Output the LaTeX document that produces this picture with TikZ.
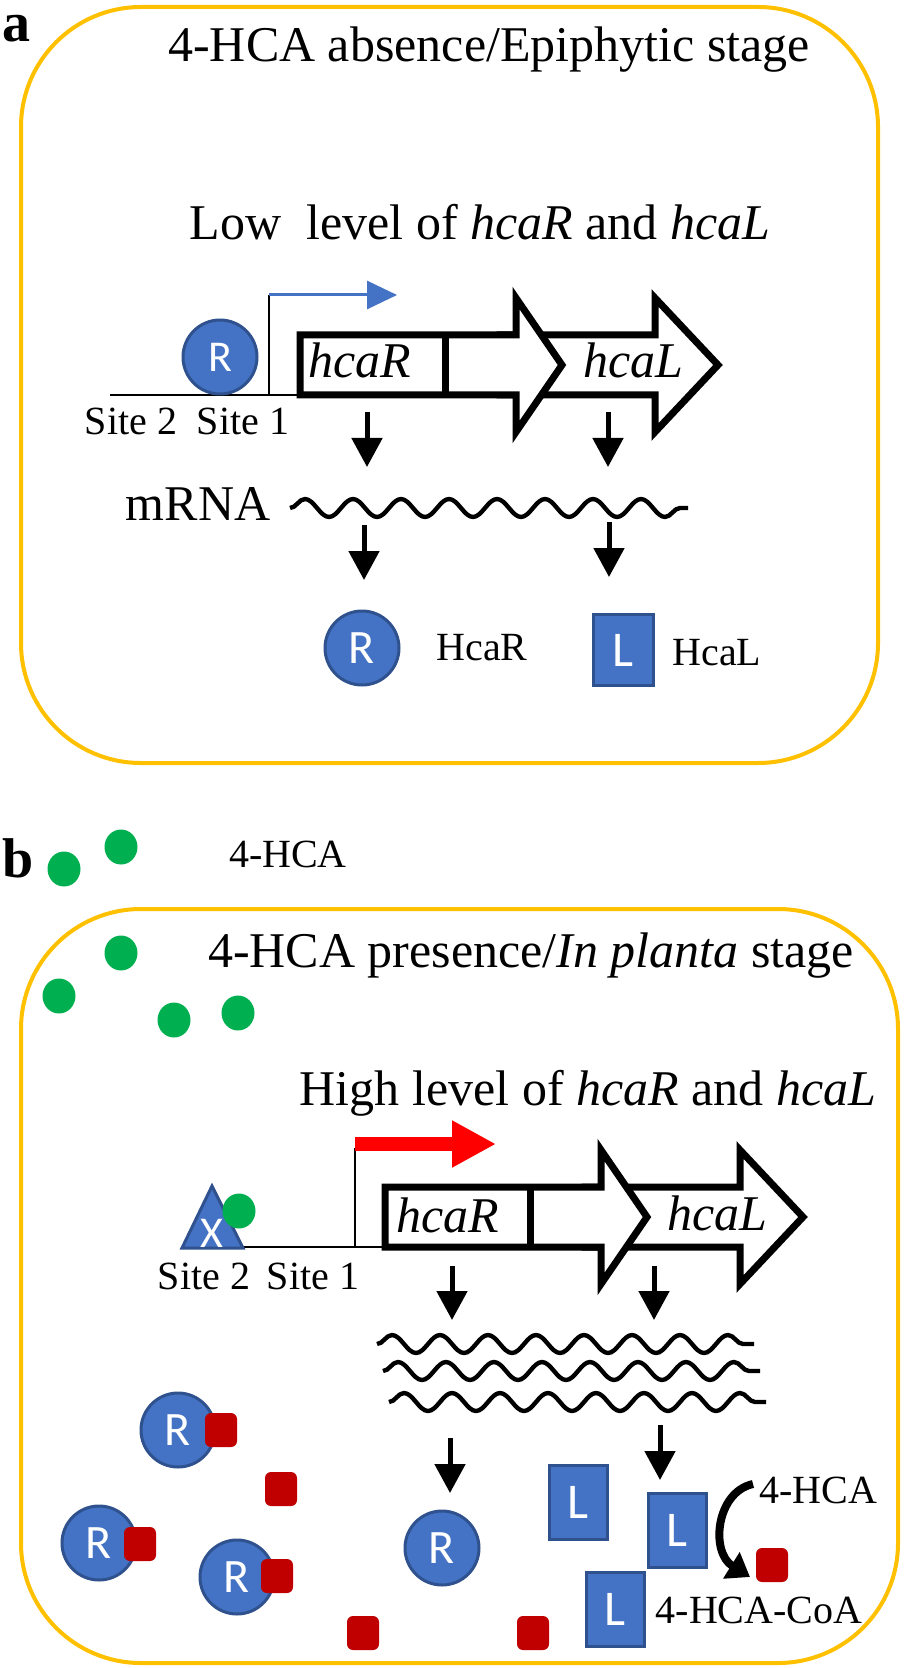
\documentclass[tikz,border=0pt]{standalone}
\usepackage{fontspec}
\setmainfont{Liberation Serif}
\newfontfamily\calib{Carlito}
\usetikzlibrary{arrows.meta,shapes.geometric,decorations.pathmorphing}

\definecolor{hcablue}{HTML}{4472C4}
\definecolor{hcaedge}{HTML}{2F528F}
\definecolor{hcagreen}{HTML}{00B050}
\definecolor{hcared}{HTML}{C00000}
\definecolor{hcagold}{HTML}{FFC000}

\tikzset{
  cell/.style={draw=hcagold, line width=2pt, rounded corners=60pt},
  txtbig/.style={inner sep=0pt, font=\fontsize{25}{30}\selectfont},
  txtsmall/.style={inner sep=0pt, font=\fontsize{20}{24}\selectfont},
  panellabel/.style={inner sep=0pt, font=\bfseries\fontsize{28}{32}\selectfont},
  genebox/.style={draw, fill=white, line width=3.5pt},
  dnarrow/.style={-{Triangle[length=14.5pt,width=15pt]}, line width=2.5pt},
  mrnaline/.style={line width=2.2pt, line join=round, decorate,
    decoration={snake, segment length=24pt, amplitude=4.5pt}},
  protR/.style={circle, draw=hcaedge, fill=hcablue, line width=1.5pt,
    minimum size=37pt, inner sep=0pt, text=white, font=\calib\fontsize{24}{24}\selectfont},
  protL/.style={rectangle, draw=hcaedge, fill=hcablue, line width=1.5pt,
    minimum width=29pt, minimum height=37pt, inner sep=0pt, text=white,
    font=\calib\fontsize{25}{25}\selectfont},
  substrate/.style={rectangle, rounded corners=3pt, fill=hcared,
    minimum width=16pt, minimum height=17pt, inner sep=0pt},
  hcadot/.style={ellipse, fill=hcagreen, minimum width=16.5pt,
    minimum height=17.5pt, inner sep=0pt}
}

\begin{document}
\begin{tikzpicture}[x=0.5pt, y=-0.5pt]
  \useasboundingbox (0,0) rectangle (912,1668);

  % ---- panel a ----
  \draw[cell] (21,7) rectangle (878,763);
  \node[panellabel, anchor=base west] (la) at (2,42) {a};
  \node[txtbig, anchor=base] (ta) at (489,62) {4-HCA absence/Epiphytic stage};
  \node[txtbig, anchor=base] (lowa) at (480,240) {Low~ level of \textit{hcaR} and \textit{hcaL}};

  \coordinate (aL) at (110,395);
  \coordinate (aG) at (300,395);
  \coordinate (aP) at (269,395);
  \coordinate (aPt) at (269,295);
  \coordinate (aPe) at (397,295);
  \draw[line width=1pt] (aL) -- (aG);
  \draw[line width=1pt] (aP) -- (aPt);
  \draw[hcablue, line width=1.5pt, -{Triangle[length=15pt,width=14pt]}] (aPt) -- (aPe);
  \node[protR, font=\calib\fontsize{22}{22}\selectfont] (aRop) at (220,357) {R};

  \begin{scope}[shift={(300,365)}]
    \draw[genebox] (200,-30) -- (355,-30) -- (355,-67) -- (418,0) -- (355,67) -- (355,30) -- (200,30) -- cycle;
    \draw[genebox] (0,-30) -- (216,-30) -- (216,-67) -- (262,0) -- (216,67) -- (216,30) -- (0,30) -- cycle;
    \draw[line width=3.5pt] (145,-30) -- (145,30);
    \node[txtbig, anchor=base] (ahcaR) at (60,13) {\textit{hcaR}};
    \node[txtbig, anchor=base] (ahcaL) at (333,13) {\textit{hcaL}};
  \end{scope}

  \node[txtsmall, anchor=base] (as2) at (131,435) {Site 2};
  \node[txtsmall, anchor=base] (as1) at (243,435) {Site 1};
  \node[txtbig, anchor=base] (amrna) at (198,520) {mRNA};
  \draw[mrnaline] (290,508) -- (688,508);

  \coordinate (a1s) at (367,412); \coordinate (a1e) at (367,467);
  \coordinate (a2s) at (608,412); \coordinate (a2e) at (608,467);
  \coordinate (a3s) at (364,525); \coordinate (a3e) at (364,580);
  \coordinate (a4s) at (609,522); \coordinate (a4e) at (609,577);
  \draw[dnarrow] (a1s) -- (a1e);
  \draw[dnarrow] (a2s) -- (a2e);
  \draw[dnarrow] (a3s) -- (a3e);
  \draw[dnarrow] (a4s) -- (a4e);

  \node[protR] (aR) at (362,648) {R};
  \node[txtsmall, anchor=base] (aRt) at (482,660) {HcaR};
  \node[protL, minimum height=35.5pt, minimum width=30pt] (aL1) at (623,650) {L};
  \node[txtsmall, anchor=base] (aLt) at (717,665) {HcaL};

  % ---- panel b ----
  \node[panellabel, anchor=base west] (lb) at (2,877) {b};
  \node[hcadot] (g1) at (64,869) {};
  \node[hcadot] (g2) at (121,847) {};
  \node[txtsmall, anchor=base] (hcaout) at (288,867) {4-HCA};

  \draw[cell] (21,909) rectangle (898,1663);
  \node[txtbig, anchor=base] (tb) at (531,967) {4-HCA presence/\textit{In planta} stage};
  \node[hcadot] (g3) at (121,953) {};
  \node[hcadot] (g4) at (59,996) {};
  \node[hcadot] (g5) at (174,1020) {};
  \node[hcadot] (g6) at (238,1013) {};
  \node[txtbig, anchor=base] (highb) at (588,1105) {High level of \textit{hcaR} and \textit{hcaL}};

  \coordinate (bL) at (243,1247);
  \coordinate (bG) at (385,1247);
  \coordinate (bP) at (355,1247);
  \coordinate (bPt) at (355,1144);
  \coordinate (bPe) at (496,1144);
  \draw[line width=1pt] (bL) -- (bG);
  \draw[line width=1pt] (bP) -- (355,1148);
  \draw[red, line width=7pt, -{Triangle[length=22pt,width=22pt]}] (bPt) -- (bPe);

  \filldraw[fill=hcablue, draw=hcaedge, line width=1.5pt] (182,1248) -- (212,1186) -- (243,1248) -- cycle;
  \node[inner sep=0pt, text=white, font=\calib\fontsize{22}{22}\selectfont] (bX) at (212,1233) {X};
  \node[hcadot] (g7) at (239,1211) {};

  \begin{scope}[shift={(385,1217)}]
    \draw[genebox] (200,-30) -- (355,-30) -- (355,-67) -- (418,0) -- (355,67) -- (355,30) -- (200,30) -- cycle;
    \draw[genebox] (0,-30) -- (216,-30) -- (216,-67) -- (262,0) -- (216,67) -- (216,30) -- (0,30) -- cycle;
    \draw[line width=3.5pt] (145,-30) -- (145,30);
    \node[txtbig, anchor=base] (bhcaR) at (63,15) {\textit{hcaR}};
    \node[txtbig, anchor=base] (bhcaL) at (332,13) {\textit{hcaL}};
  \end{scope}

  \node[txtsmall, anchor=base] (bs2) at (204,1289) {Site 2};
  \node[txtsmall, anchor=base] (bs1) at (313,1289) {Site 1};

  \coordinate (b1s) at (452,1266); \coordinate (b1e) at (452,1320);
  \coordinate (b2s) at (654,1266); \coordinate (b2e) at (654,1320);
  \draw[dnarrow] (b1s) -- (b1e);
  \draw[dnarrow] (b2s) -- (b2e);

  \draw[mrnaline] (377,1344) -- (754,1344);
  \draw[mrnaline] (383,1371) -- (760,1371);
  \draw[mrnaline] (389,1402) -- (766,1402);

  \coordinate (b3s) at (450,1438); \coordinate (b3e) at (450,1493);
  \coordinate (b4s) at (660,1425); \coordinate (b4e) at (660,1480);
  \draw[dnarrow] (b3s) -- (b3e);
  \draw[dnarrow] (b4s) -- (b4e);

  % bound and free HcaR
  \node[protR] (bR1) at (178,1430) {R};
  \node[substrate] (s1) at (221,1430) {};
  \node[protR] (bR2) at (99,1543) {R};
  \node[substrate] (s2) at (140,1544) {};
  \node[protR] (bR3) at (237,1577) {R};
  \node[substrate] (s3) at (277,1576) {};
  \node[protR] (bR4) at (442,1548) {R};
  \node[substrate] (s4) at (281,1489) {};
  \node[substrate] (s5) at (363,1633) {};
  \node[substrate] (s6) at (533,1633) {};
  \node[substrate] (s7) at (772,1565) {};

  % HcaL
  \node[protL] (bL1) at (578,1502) {L};
  \node[protL] (bL2) at (677,1530) {L};
  \node[protL] (bL3) at (615,1609) {L};
  \coordinate (cA) at (753,1484);
  \coordinate (cB) at (750,1577);
  \draw[line width=4pt, -{Triangle[length=11pt,width=15pt]}] (cA) .. controls (716,1492) and (710,1552) .. (cB);
  \node[txtsmall, anchor=base] (sub) at (818,1503) {4-HCA};
  \node[txtsmall, anchor=base] (prod) at (759,1623) {4-HCA-CoA};
\end{tikzpicture}
\end{document}
